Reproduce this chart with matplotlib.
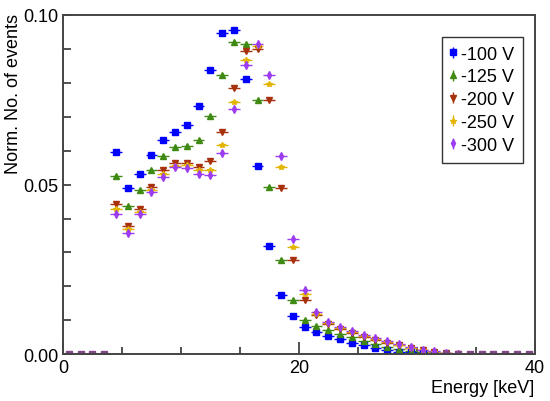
import matplotlib
matplotlib.use("Agg")
import matplotlib.pyplot as plt
from matplotlib.legend_handler import HandlerErrorbar
import numpy as np

plt.rcParams['font.family'] = ['Liberation Sans', 'DejaVu Sans']

# bin centres (1 keV bins, 0-40 keV)
energy = np.arange(0.5, 40, 1.0)

v100 = [0, 0, 0, 0, 0.0597, 0.0489, 0.0531, 0.0586, 0.0630, 0.0654,
        0.0675, 0.0730, 0.0837, 0.0945, 0.0955, 0.0811, 0.0553, 0.0319, 0.0175, 0.0112,
        0.0082, 0.0066, 0.0054, 0.0045, 0.0035, 0.0027, 0.0020, 0.0013, 0.0007, 0.0006,
        0.0004, 0.0002, 0, 0, 0, 0, 0, 0, 0, 0]
v125 = [0, 0, 0, 0, 0.0525, 0.0437, 0.0483, 0.0543, 0.0585, 0.0609,
        0.0612, 0.0631, 0.0702, 0.0823, 0.0919, 0.0914, 0.0749, 0.0492, 0.0278, 0.0160,
        0.0102, 0.0084, 0.0072, 0.0059, 0.0050, 0.0040, 0.0030, 0.0023, 0.0015, 0.0009,
        0.0006, 0.0003, 0, 0, 0, 0, 0, 0, 0, 0]
v200 = [0, 0, 0, 0, 0.0442, 0.0378, 0.0428, 0.0492, 0.0543, 0.0562,
        0.0562, 0.0551, 0.0570, 0.0655, 0.0783, 0.0892, 0.0900, 0.0749, 0.0491, 0.0278,
        0.0161, 0.0115, 0.0089, 0.0074, 0.0064, 0.0052, 0.0043, 0.0034, 0.0027, 0.0018,
        0.0012, 0.0007, 0.0004, 0.0002, 0, 0, 0, 0, 0, 0]
v250 = [0, 0, 0, 0, 0.0428, 0.0369, 0.0420, 0.0484, 0.0531, 0.0555,
        0.0556, 0.0543, 0.0543, 0.0616, 0.0744, 0.0867, 0.0906, 0.0796, 0.0551, 0.0316,
        0.0177, 0.0120, 0.0092, 0.0077, 0.0067, 0.0055, 0.0046, 0.0037, 0.0029, 0.0020,
        0.0013, 0.0008, 0.0004, 0.0002, 0, 0, 0, 0, 0, 0]
v300 = [0, 0, 0, 0, 0.0413, 0.0357, 0.0413, 0.0477, 0.0522, 0.0551,
        0.0548, 0.0531, 0.0529, 0.0593, 0.0721, 0.0852, 0.0914, 0.0822, 0.0585, 0.0341,
        0.0190, 0.0124, 0.0096, 0.0080, 0.0070, 0.0058, 0.0049, 0.0039, 0.0030, 0.0021,
        0.0014, 0.0009, 0.0004, 0.0002, 0, 0, 0, 0, 0, 0]

labels = ['-100 V', '-125 V', '-200 V', '-250 V', '-300 V']
series = [v100, v125, v200, v250, v300]
colors = ['#0000ff', '#3f8a12', '#a8300c', '#e3b400', '#9b3cf2']
markers = ['s', '^', 'v', '*', 'd']
msizes = [4.6, 5.0, 5.0, 4.2, 4.0]

fig = plt.figure(figsize=(5.5, 4.02), dpi=100)
ax = fig.add_axes([0.1145, 0.1157, 0.8575, 0.8457])

for vals, lab, c, m, ms in zip(series, labels, colors, markers, msizes):
    vals = np.array(vals)
    nz = vals > 0
    ax.errorbar(energy[nz], vals[nz], xerr=0.5, yerr=0.0006, fmt=m, color=c,
                ms=ms, elinewidth=1.0, capsize=0, label=lab)

# empty bins: the curves sit on top of each other at zero
zero = np.array(v100) == 0
ax.errorbar(energy[zero], np.zeros(zero.sum()), xerr=0.5, fmt='s', color='#84468a',
            ms=4.4, elinewidth=1.0, capsize=0)

ax.set_xlim(0, 40)
ax.set_ylim(0, 0.1)
ax.set_xticks([0, 20, 40])
ax.set_xticks(np.arange(0, 41, 5), minor=True)
ax.set_yticks([0, 0.05, 0.10])
ax.set_yticklabels(['0.00', '0.05', '0.10'])
ax.set_yticks(np.arange(0, 0.101, 0.01), minor=True)
ax.tick_params(which='both', direction='in', labelsize=13, top=False, right=False,
               color='#333333', width=1.2)
ax.tick_params(axis='x', which='major', length=9)
ax.tick_params(axis='x', which='minor', length=5)
ax.tick_params(axis='y', which='both', length=6)
for s in ax.spines.values():
    s.set_linewidth(1.4)
    s.set_color('#444444')

ax.set_xlabel('Energy [keV]', fontsize=13, loc='right', labelpad=2)
ax.set_ylabel('Norm. No. of events', fontsize=13, loc='top')
ax.yaxis.set_label_coords(-0.087, 1.005)

leg = ax.legend(loc='upper right', bbox_to_anchor=(0.975, 0.935), fontsize=13,
                frameon=True, fancybox=False, edgecolor='black', handlelength=0.3,
                handletextpad=0.25, labelspacing=0.32, borderpad=0.5,
                borderaxespad=0,
                handler_map={type(ax.containers[0]): HandlerErrorbar(xerr_size=0, yerr_size=0.3)})
leg.get_frame().set_linewidth(1.0)

fig.savefig('out.png', dpi=100)
